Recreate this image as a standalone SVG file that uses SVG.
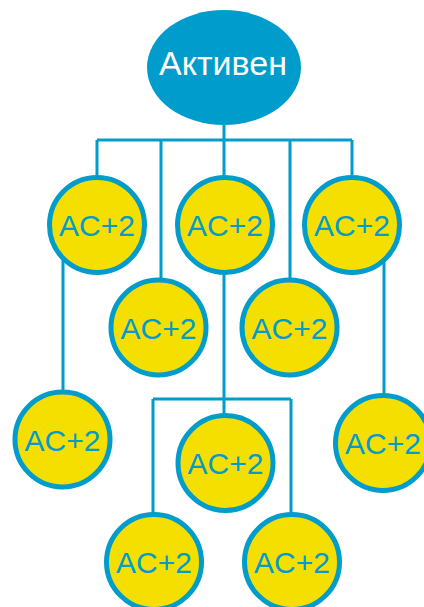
<svg xmlns="http://www.w3.org/2000/svg" width="424" height="607" viewBox="0 0 424 607">
<style>
.c{fill:#f5df00;stroke:#009ccc;stroke-width:5}
.t{font-family:"Liberation Sans",Arial,sans-serif;font-size:30px;fill:#009ccc;text-anchor:middle}
.l{fill:none;stroke:#009ccc;stroke-width:3}
</style>
<rect width="424" height="607" fill="#ffffff"/>
<g id="connectors" class="l">
<path d="M224,120V140M97,140H352M97,140V200M161,140V300M224,140V200M290,140V300M352,140V200"/>
<path d="M63,250V420M384,250V420"/>
<path d="M224,250V430M153,399H291M153,399V540M291,399V540"/>
</g>
<g id="root">
<ellipse cx="224" cy="67.5" rx="77" ry="57.5" fill="#009ccc"/>
<text x="223" y="75" font-family="Liberation Sans,Arial,sans-serif" font-size="34" fill="#ffffff" text-anchor="middle">Активен</text>
</g>
<g id="n1"><circle class="c" cx="97" cy="225" r="47.5"/><text class="t" x="97" y="236">AC+2</text></g>
<g id="n2"><circle class="c" cx="225" cy="225" r="47.5"/><text class="t" x="225" y="236">AC+2</text></g>
<g id="n3"><circle class="c" cx="352" cy="225" r="47.5"/><text class="t" x="352" y="236">AC+2</text></g>
<g id="n4"><circle class="c" cx="158.5" cy="327.5" r="47.5"/><text class="t" x="158.5" y="338.5">AC+2</text></g>
<g id="n5"><circle class="c" cx="289.5" cy="327.5" r="47.5"/><text class="t" x="289.5" y="338.5">AC+2</text></g>
<g id="n6"><circle class="c" cx="62.5" cy="439.5" r="47.5"/><text class="t" x="62.5" y="450.5">AC+2</text></g>
<g id="n7"><circle class="c" cx="225.5" cy="463" r="47.5"/><text class="t" x="225.5" y="474">AC+2</text></g>
<g id="n8"><circle class="c" cx="383" cy="443" r="47.5"/><text class="t" x="383" y="454">AC+2</text></g>
<g id="n9"><circle class="c" cx="154" cy="562" r="47.5"/><text class="t" x="154" y="573">AC+2</text></g>
<g id="n10"><circle class="c" cx="292" cy="562" r="47.5"/><text class="t" x="292" y="573">AC+2</text></g>
</svg>
